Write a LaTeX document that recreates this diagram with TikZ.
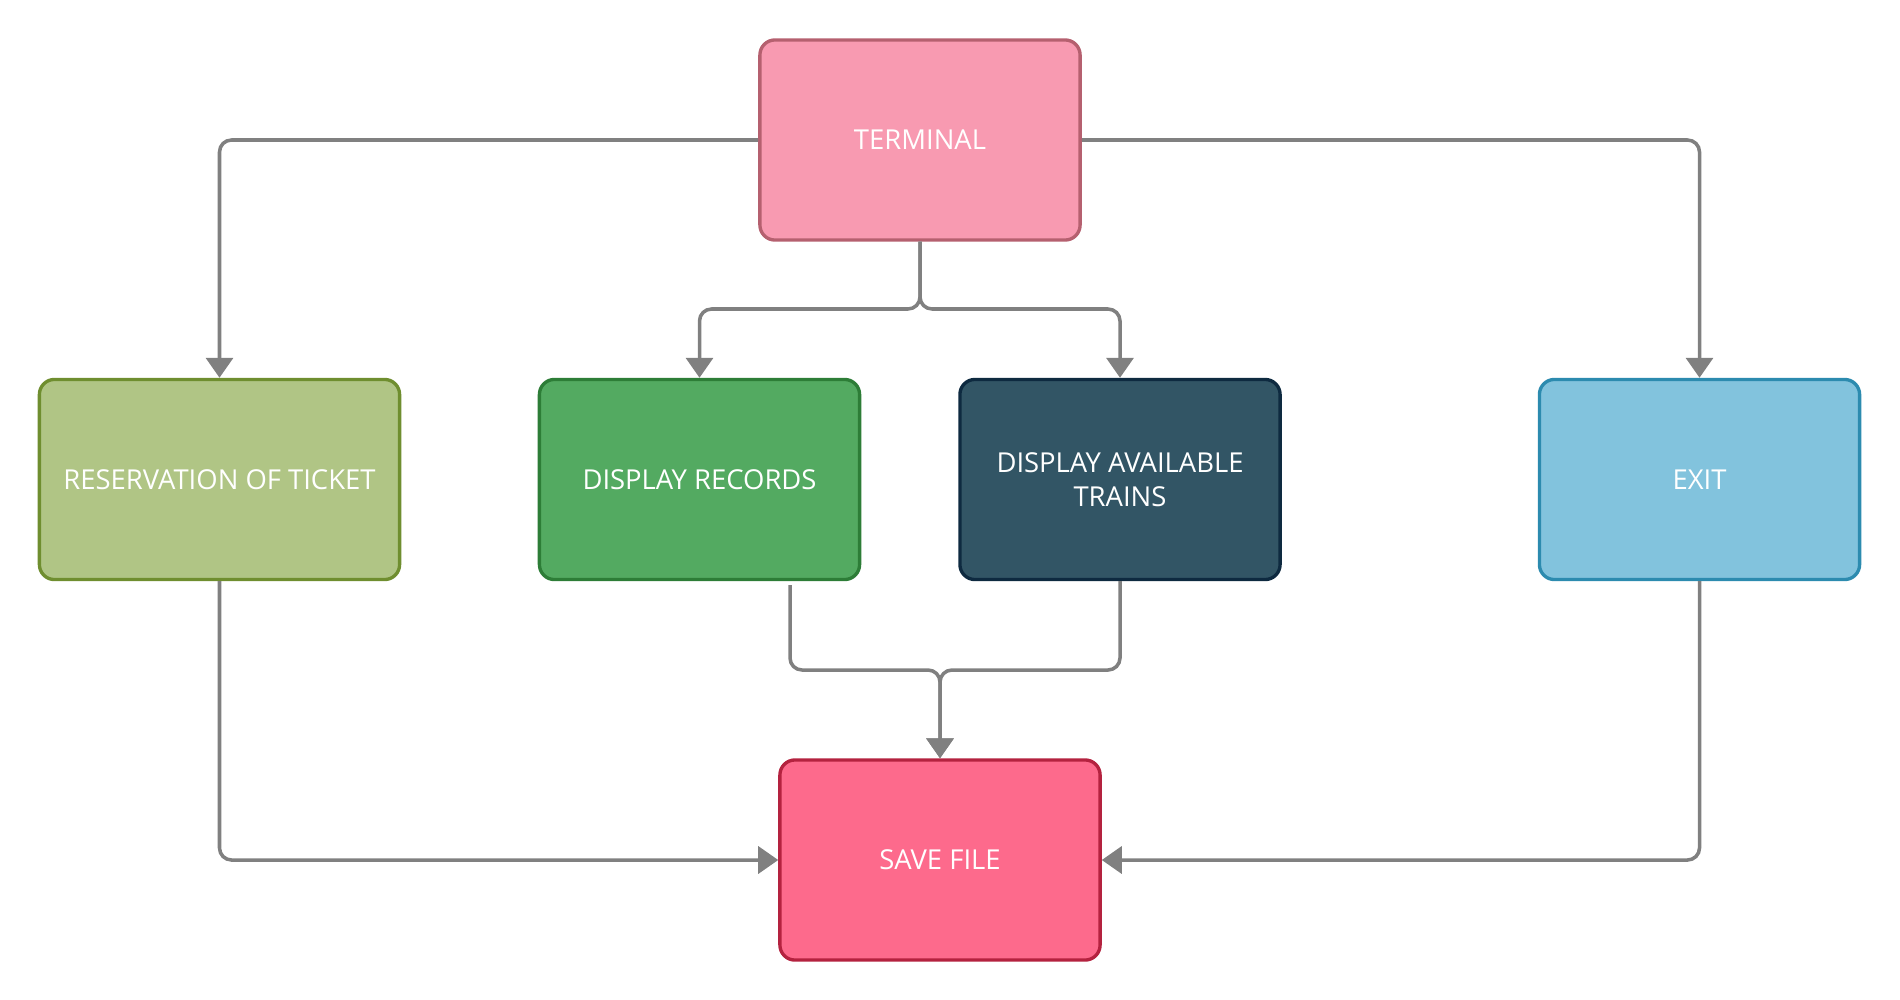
\documentclass[tikz,border=0pt]{standalone}
\usepackage{fontspec}
\setmainfont{Open Sans}
\usetikzlibrary{arrows.meta}

\definecolor{termfill}{HTML}{F89AB1}
\definecolor{termline}{HTML}{B5606F}
\definecolor{resvfill}{HTML}{B0C585}
\definecolor{resvline}{HTML}{6F8E2F}
\definecolor{recsfill}{HTML}{53AA61}
\definecolor{recsline}{HTML}{2D7D37}
\definecolor{trainfill}{HTML}{325565}
\definecolor{trainline}{HTML}{0E2A40}
\definecolor{exitfill}{HTML}{82C3DD}
\definecolor{exitline}{HTML}{2C8BAF}
\definecolor{savefill}{HTML}{FD6A8C}
\definecolor{saveline}{HTML}{B4223F}

\begin{document}
\begin{tikzpicture}[x=0.01cm,y=-0.01cm,
  box/.style={draw,line width=0.95pt,rounded corners=0.15cm,minimum width=3.2cm,
    minimum height=2cm,align=center,text=white,font=\fontsize{7.8}{9.6}\selectfont},
  conn/.style={draw=gray,line width=1pt,rounded corners=0.12cm,
    -{Triangle[length=0.2cm,width=0.27cm]}}]
  % margini
  \useasboundingbox (0,0) rectangle (1900,1000);

  % casete
  \node[box,fill=termfill,draw=termline] (term) at (920,140) {TERMINAL};
  \node[box,fill=resvfill,draw=resvline,minimum width=3.6cm] (resv) at (219.5,479.5) {RESERVATION OF TICKET};
  \node[box,fill=recsfill,draw=recsline] (recs) at (699.5,479.5) {DISPLAY RECORDS};
  \node[box,fill=trainfill,draw=trainline] (trains) at (1120,479.5) {DISPLAY AVAILABLE\\TRAINS};
  \node[box,fill=exitfill,draw=exitline] (exit) at (1699.5,479.5) {EXIT};
  \node[box,fill=savefill,draw=saveline] (save) at (940,860) {SAVE FILE};

  % puncte de ramificare
  \coordinate (split) at (920,309);
  \coordinate (join) at (940,670);
  \coordinate (recsout) at (790,585);

  % legaturi
  \draw[conn] (term.west) -| (resv.north);
  \draw[conn] (term.east) -| (exit.north);
  \draw[conn] (term.south) -- (split) -| (recs.north);
  \draw[conn] (term.south) -- (split) -| (trains.north);
  \draw[conn] (recsout) |- (join) -- (save.north);
  \draw[conn] (trains.south) |- (join) -- (save.north);
  \draw[conn] (resv.south) |- (save.west);
  \draw[conn] (exit.south) |- (save.east);
\end{tikzpicture}
\end{document}
